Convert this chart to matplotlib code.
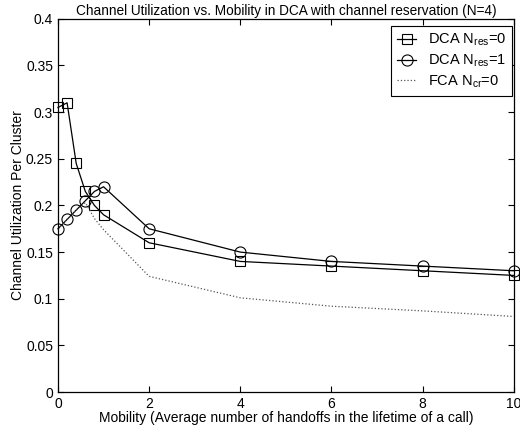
import matplotlib
matplotlib.use('Agg')
import matplotlib.pyplot as plt

plt.rcParams['font.family'] = ['Liberation Sans', 'DejaVu Sans']
plt.rcParams['mathtext.fontset'] = 'custom'
plt.rcParams['mathtext.rm'] = 'Liberation Sans'
plt.rcParams['mathtext.it'] = 'Liberation Sans'

mobility = [0, 0.2, 0.4, 0.6, 0.8, 1, 2, 4, 6, 8, 10]
dca_res0 = [0.305, 0.31, 0.245, 0.215, 0.2, 0.19, 0.16, 0.14, 0.135, 0.13, 0.125]
dca_res1 = [0.175, 0.185, 0.195, 0.205, 0.215, 0.22, 0.175, 0.15, 0.14, 0.135, 0.13]
fca_cr0 = [0.175, 0.185, 0.195, 0.203, 0.186, 0.174, 0.124, 0.101, 0.092, 0.087, 0.081]

fig = plt.figure(figsize=(5.2, 4.28), dpi=100)
ax = fig.add_axes([0.1115, 0.084, 0.8765, 0.872])

ax.plot(mobility, dca_res0, color='black', lw=0.9, marker='s', ms=6.5,
        mfc='none', mec='black', mew=0.8, label=r'DCA N$_{\rm res}$=0', clip_on=False)
ax.plot(mobility, dca_res1, color='black', lw=0.9, marker='o', ms=8,
        mfc='none', mec='black', mew=0.8, label=r'DCA N$_{\rm res}$=1', clip_on=False)
ax.plot(mobility, fca_cr0, color='#555555', lw=0.9, ls=':',
        label=r'FCA N$_{\rm cr}$=0')

ax.set_xlim(0, 10)
ax.set_ylim(0, 0.4)
ax.set_xticks([0, 2, 4, 6, 8, 10])
ax.set_yticks([0, 0.05, 0.1, 0.15, 0.2, 0.25, 0.3, 0.35, 0.4])
ax.set_yticklabels(['0', '0.05', '0.1', '0.15', '0.2', '0.25', '0.3', '0.35', '0.4'])
ax.tick_params(direction='in', labelsize=10, length=4, top=True, right=True)
for s in ax.spines.values():
    s.set_linewidth(0.9)

ax.set_title('Channel Utilization vs. Mobility in DCA with channel reservation (N=4)',
             fontsize=9.8, pad=3)
ax.set_xlabel('Mobility (Average number of handoffs in the lifetime of a call)',
              fontsize=10, labelpad=0)
ax.set_ylabel('Channel Utilization Per Cluster', fontsize=10, labelpad=1)

leg = ax.legend(loc='upper right', fontsize=10.5, fancybox=False, framealpha=1,
                edgecolor='black', borderaxespad=0, handlelength=1.3,
                labelspacing=0.3, handletextpad=0.8,
                bbox_to_anchor=(512 / 520, 1 - 26 / 428), bbox_transform=fig.transFigure)
leg.get_frame().set_linewidth(0.8)

fig.savefig('out.png', dpi=100)
